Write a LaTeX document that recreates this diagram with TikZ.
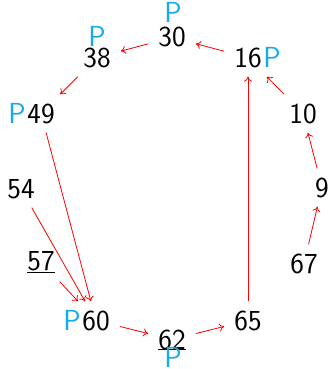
\documentclass[tikz,border=0pt]{standalone}
\usetikzlibrary{arrows.meta}
\definecolor{pblue}{RGB}{20,170,235}
\newcommand{\baseul}[1]{\setbox0\hbox{#1}\rlap{\rule[-0.6pt]{\wd0}{1pt}}#1}
\begin{document}
\begin{tikzpicture}[x=1pt,y=-1pt,
  num/.style={font=\fontsize{29}{34}\selectfont\sffamily, inner xsep=10pt, inner ysep=9pt, anchor=base},
  plab/.style={font=\fontsize{29}{34}\selectfont\sffamily, text=pblue, inner sep=0pt, anchor=base},
  edge/.style={draw=red, line width=0.8pt, -{To[length=5pt,width=8pt]}}]
\useasboundingbox (0,0) rectangle (332,369);
\node[num] (n30) at (172,47) {30};
\node[num] (n38) at (97,67) {38};
\node[num] (n16) at (248,67) {16};
\node[num] (n49) at (41,123) {49};
\node[num] (n10) at (303,123) {10};
\node[num] (n9) at (322,197) {9};
\node[num] (n54) at (21,198) {54};
\node[num] (n57) at (41,270) {\underline{57}};
\node[num] (n67) at (304,273) {67};
\node[num] (n60) at (96,330) {60};
\node[num] (n65) at (248,330) {65};
\node[num] (n62) at (172,349) {\baseul{62}};
\node[plab] (p30) at (173,23) {P};
\node[plab] (p38) at (97,47) {P};
\node[plab] (p16) at (272,67) {P};
\node[plab] (p49) at (17,123) {P};
\node[plab] (p60) at (72,330) {P};
\node[plab] (p62) at (173,367) {P};
\draw[edge] (n30) -- (n38);
\draw[edge] (n16) -- (n30);
\draw[edge] (n10) -- (n16);
\draw[edge] (n9) -- (n10);
\draw[edge] (n67) -- (n9);
\draw[edge] (n65) -- (n16);
\draw[edge] (n62) -- (n65);
\draw[edge] (n60) -- (n62);
\draw[edge] (n38) -- (n49);
\draw[edge] (n49) -- (n60);
\draw[edge] (n54) -- (n60);
\draw[edge] (n57) -- (n60);
\end{tikzpicture}
\end{document}
